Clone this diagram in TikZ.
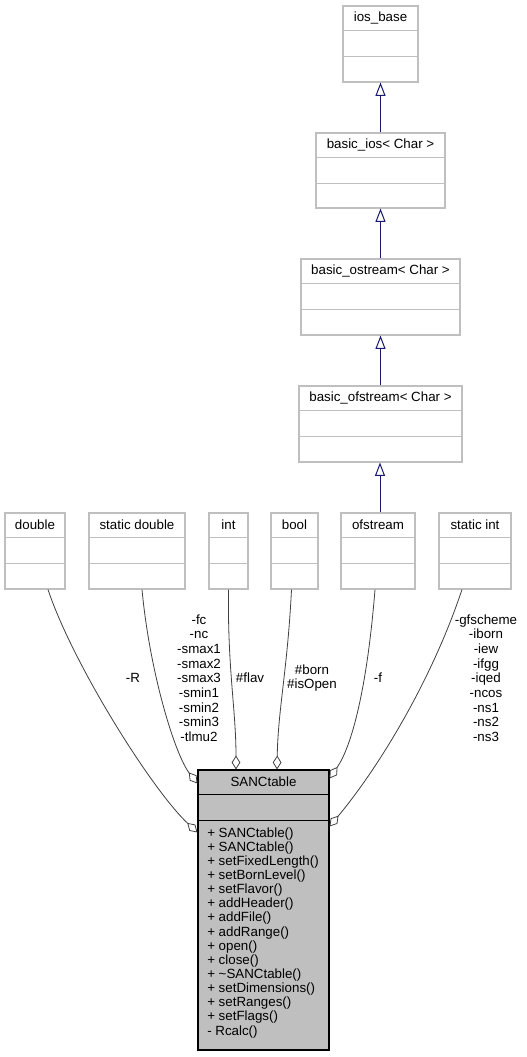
\documentclass[tikz,border=0pt]{standalone}
\usepackage{fontspec}
\setmainfont{Liberation Sans}
\usetikzlibrary{arrows.meta,calc,fit}

\definecolor{boxgray}{RGB}{191,191,191}
\definecolor{edgegray}{RGB}{64,64,64}
\definecolor{inhblue}{RGB}{25,25,112}

\tikzset{
  cls/.style={draw=boxgray, line width=0.8pt},
  mainCls/.style={draw=black, fill=boxgray, line width=0.8pt},
  title/.style={font=\fontsize{10}{11}\selectfont, inner sep=0pt},
  member/.style={font=\fontsize{10}{11}\selectfont, inner sep=0pt, anchor=base west},
  role/.style={font=\fontsize{10}{11}\selectfont, align=center, inner sep=0pt},
  inherit/.style={draw=inhblue, line width=0.75pt, -{Triangle[open,length=10pt,width=7.5pt]}},
  aggr/.style={draw=edgegray, line width=0.6pt, -{Diamond[open,length=10.5pt,width=6.5pt]}}
}

% name, left, top, right, bottom, title, style
\newcommand\clsbox[7]{%
  \coordinate (#1-a) at (#2,#3);
  \coordinate (#1-b) at (#4,#5);
  \node[fit=(#1-a)(#1-b), inner sep=0pt, #7] (#1) {};
  \node[title] (#1-t) at ($(#1.north)+(0,12.5)$) {#6};
  \draw[#7] ($(#1.north west)+(0,25.3)$) -- ($(#1.north east)+(0,25.3)$);
  \draw[#7] ($(#1.north west)+(0,50.6)$) -- ($(#1.north east)+(0,50.6)$);
}

\begin{document}
\begin{tikzpicture}[x=0.75pt,y=-0.75pt]
  \useasboundingbox (0,0) rectangle (526,1057);

  % inheritance chain
  \clsbox{iosbase}{343}{6}{418}{82}{ios\_base}{cls}
  \clsbox{bios}{316}{133}{445}{208}{basic\_ios< Char >}{cls}
  \clsbox{bostream}{301}{259}{460}{335}{basic\_ostream< Char >}{cls}
  \clsbox{bofstream}{299}{386}{462}{462}{basic\_ofstream< Char >}{cls}
  \clsbox{ofs}{341}{513}{415}{589}{ofstream}{cls}

  % member types
  \clsbox{dbl}{5}{513}{65}{589}{double}{cls}
  \clsbox{sdbl}{89}{513}{185}{589}{static double}{cls}
  \clsbox{int}{209}{513}{248}{589}{int}{cls}
  \clsbox{bool}{271}{513}{318}{589}{bool}{cls}
  \clsbox{sint}{439}{513}{511}{589}{static int}{cls}

  % SANCtable
  \clsbox{sanc}{198}{770}{329}{1050}{SANCtable}{mainCls}
  \foreach \m [count=\i from 0] in {+ SANCtable(),+ SANCtable(),+ setFixedLength(),
      + setBornLevel(),+ setFlavor(),+ addHeader(),+ addFile(),+ addRange(),
      + open(),+ close(),+ \textasciitilde SANCtable(),+ setDimensions(),
      + setRanges(),+ setFlags(),- Rcalc()}
    \node[member] (m\i) at (207,837+14.15*\i) {\m};

  \draw[inherit] (bios.north) -- (iosbase.south);
  \draw[inherit] (bostream.north) -- (bios.south);
  \draw[inherit] (bofstream.north) -- (bostream.south);
  \draw[inherit] ($(ofs.north)+(2,0)$) -- ($(bofstream.south)+(-0.5,0)$);

  \draw[aggr] ($(dbl.south)+(13,0)$) .. controls +(25,75) and +(-45,-42) .. ($(sanc.north west)+(0,63)$);
  \draw[aggr] ($(sdbl.south)+(5,0)$) .. controls +(8,85) and +(-22,-28) .. ($(sanc.north west)+(0,14)$);
  \draw[aggr] (int.south) .. controls +(-1,80) and +(0,-60) .. ($(sanc.north)+(-27.5,0)$);
  \draw[aggr] ($(bool.south)+(-3,0)$) .. controls +(-4,80) and +(1,-60) .. ($(sanc.north)+(13.5,0)$);
  \draw[aggr] ($(ofs.south)+(-3,0)$) .. controls +(-8,100) and +(22,-32) .. ($(sanc.north east)+(0,9)$);
  \draw[aggr] ($(sint.south)+(-13,0)$) .. controls +(-30,90) and +(50,-60) .. ($(sanc.north east)+(0,57)$);

  % roles
  \node[role] (lblR) at (133,678) {-R};
  \node[role, font=\fontsize{10}{11}\selectfont] (lblsdbl) at (199,678)
    {-fc\\-nc\\-smax1\\-smax2\\-smax3\\-smin1\\-smin2\\-smin3\\-tlmu2};
  \node[role] (lblflav) at (250,678) {\#flav};
  \node[role] (lblbool) at (312,678) {\#born\\\#isOpen};
  \node[role] (lblf) at (378,678) {-f};
  \node[role] (lblsint) at (486,678)
    {-gfscheme\\-iborn\\-iew\\-ifgg\\-iqed\\-ncos\\-ns1\\-ns2\\-ns3};
\end{tikzpicture}
\end{document}
